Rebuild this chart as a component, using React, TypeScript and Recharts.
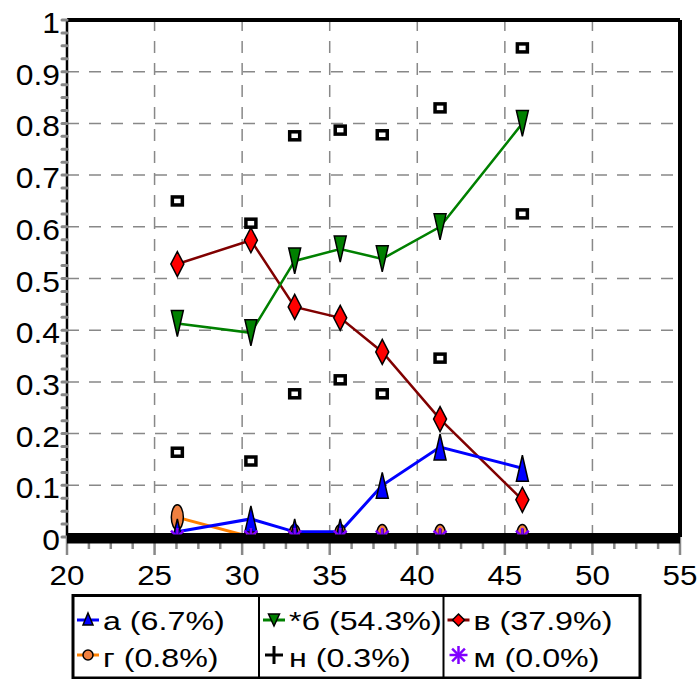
import React from 'react';
import { ComposedChart, Line, XAxis, YAxis, ReferenceLine } from 'recharts';

// sample positions and shares per series
const xValues = [26.3, 30.5, 33.0, 35.6, 38.0, 41.3, 46.0];
const seriesA = [0.01, 0.035, 0.01, 0.01, 0.1, 0.174, 0.133];
const seriesB = [0.413, 0.395, 0.534, 0.557, 0.538, 0.6, 0.8];
const seriesV = [0.528, 0.574, 0.445, 0.424, 0.358, 0.228, 0.072];
const seriesG = [0.038, 0, 0, 0, 0, 0, 0];
const seriesN = [0, 0, 0, 0, 0, 0, 0];
const seriesM = [0, 0, 0, 0, 0, 0, 0];
const upperBound = [0.65, 0.607, 0.776, 0.787, 0.778, 0.83, 0.946];
const lowerBound = [0.164, 0.147, 0.277, 0.304, 0.277, 0.346, 0.625];

const xMajor = [20, 25, 30, 35, 40, 45, 50, 55];
const xMinor = Array.from({ length: 29 }, (_, i) => 20 + i * 1.25);
const yMajor = [0, 0.1, 0.2, 0.3, 0.4, 0.5, 0.6, 0.7, 0.8, 0.9, 1];
const yMinor = Array.from({ length: 41 }, (_, i) => Math.round(i * 25) / 1000);
const yLabels = ['0', '0.1', '0.2', '0.3', '0.4', '0.5', '0.6', '0.7', '0.8', '0.9', '1'];

const legendLabels = ['а (6.7%)', '*б (54.3%)', 'в (37.9%)', 'г (0.8%)', 'н (0.3%)', 'м (0.0%)'];

const data = xValues.map((x, i) => ({
  x,
  a: seriesA[i],
  b: seriesB[i],
  v: seriesV[i],
  g: seriesG[i],
  n: seriesN[i],
  m: seriesM[i],
  hi: upperBound[i],
  lo: lowerBound[i],
}));

const FONT = '"Liberation Sans", Arial, sans-serif';
const GRID = '#888';

const triUp = (cx: number, cy: number, w: number, h: number) =>
  `M${cx},${cy - h / 2} L${cx + w / 2},${cy + h / 2} L${cx - w / 2},${cy + h / 2} Z`;
const triDown = (cx: number, cy: number, w: number, h: number) =>
  `M${cx - w / 2},${cy - h / 2} L${cx + w / 2},${cy - h / 2} L${cx},${cy + h / 2} Z`;
const diamond = (cx: number, cy: number, w: number, h: number) =>
  `M${cx},${cy - h / 2} L${cx + w / 2},${cy} L${cx},${cy + h / 2} L${cx - w / 2},${cy} Z`;

const Star = ({ cx, cy, r }: { cx: number; cy: number; r: number }) => {
  const d = r * 0.707;
  return (
    <g stroke="#8000ff" strokeWidth={2.5}>
      <line x1={cx - r} x2={cx + r} y1={cy} y2={cy} />
      <line x1={cx} x2={cx} y1={cy - r} y2={cy + r} />
      <line x1={cx - d} x2={cx + d} y1={cy - d} y2={cy + d} />
      <line x1={cx - d} x2={cx + d} y1={cy + d} y2={cy - d} />
    </g>
  );
};

const Plus = ({ cx, cy, r }: { cx: number; cy: number; r: number }) => (
  <g stroke="#000" strokeWidth={3}>
    <line x1={cx - r} x2={cx + r} y1={cy} y2={cy} />
    <line x1={cx} x2={cx} y1={cy - r} y2={cy + r} />
  </g>
);

const dotA = (p: any) => (
  <path key={`a${p.index}`} d={triUp(p.cx, p.cy, 12, 26)} fill="#0000ff" stroke="#000" strokeWidth={1.5} />
);
const dotB = (p: any) => (
  <path key={`b${p.index}`} d={triDown(p.cx, p.cy, 12, 26)} fill="#008000" stroke="#000" strokeWidth={1.5} />
);
const dotV = (p: any) => (
  <path key={`v${p.index}`} d={diamond(p.cx, p.cy, 13, 25)} fill="#ff0000" stroke="#000" strokeWidth={1.5} />
);
const dotG = (p: any) => (
  <ellipse key={`g${p.index}`} cx={p.cx} cy={p.cy} rx={6} ry={12.5} fill="#f08040" stroke="#000" strokeWidth={1.5} />
);
const dotN = (p: any) => (
  <g key={`n${p.index}`}><Plus cx={p.cx} cy={p.cy} r={8} /></g>
);
const dotM = (p: any) => (
  <g key={`m${p.index}`}><Star cx={p.cx} cy={p.cy} r={9} /></g>
);
const dotBox = (p: any) => (
  <rect key={`${p.dataKey}${p.index}`} x={p.cx - 5} y={p.cy - 4} width={10} height={8}
    fill="#fff" stroke="#000" strokeWidth={3.5} />
);

const XTick = (props: any) => {
  const { x, y, payload } = props;
  const v = payload.value;
  const major = xMajor.some((m) => Math.abs(m - v) < 1e-6);
  return (
    <g>
      <line x1={x} x2={x} y1={y} y2={y + (major ? 18 : 12)} stroke={GRID} strokeWidth={2.5} />
      {major && (
        <text transform={`translate(${x},${y + 48}) scale(1.12,1)`} textAnchor="middle" fontSize={28} fontFamily={FONT} fill="#000">
          {String(v)}
        </text>
      )}
    </g>
  );
};

const YTick = (props: any) => {
  const { x, y, payload } = props;
  const v = payload.value;
  const idx = yMajor.findIndex((m) => Math.abs(m - v) < 1e-6);
  return (
    <g>
      <line x1={x - 5} x2={x} y1={y} y2={y} stroke={GRID} strokeWidth={3} strokeLinecap="round" />
      {idx >= 0 && (
        <text transform={`translate(${x - 7},${y + 13}) scale(1.06,1)`} textAnchor="end" fontSize={30} fontFamily={FONT} fill="#000">
          {yLabels[idx]}
        </text>
      )}
    </g>
  );
};

const legendCols = [73, 259, 443.5];
const legendRows = [620, 655];
const textRows = [630, 667];

const LegendMark = ({ i, cx, cy }: { i: number; cx: number; cy: number }) => {
  const line = (color: string) => (
    <line x1={cx - 11} x2={cx + 11} y1={cy} y2={cy} stroke={color} strokeWidth={3} />
  );
  switch (i) {
    case 0:
      return <g>{line('#0000ff')}<path d={triUp(cx, cy - 1, 10, 12)} fill="#0000ff" stroke="#000" strokeWidth={1.5} /></g>;
    case 1:
      return <g>{line('#008000')}<path d={triDown(cx, cy, 11, 12)} fill="#008000" stroke="#000" strokeWidth={1.5} /></g>;
    case 2:
      return <g>{line('#800000')}<path d={diamond(cx, cy, 12, 12)} fill="#ff0000" stroke="#000" strokeWidth={1.5} /></g>;
    case 3:
      return <g>{line('#ff8000')}<circle cx={cx} cy={cy} r={5} fill="#f08040" stroke="#000" strokeWidth={1.5} /></g>;
    case 4:
      return <Plus cx={cx} cy={cy} r={9} />;
    default:
      return <Star cx={cx} cy={cy} r={9} />;
  }
};

const ChartLegend = () => (
  <svg width={699} height={679} style={{ position: 'absolute', left: 0, top: 0, pointerEvents: 'none' }}>
    <rect x={73} y={595.5} width={567} height={82.5} fill="none" stroke="#000" strokeWidth={3} />
    <line x1={259} x2={259} y1={595} y2={678} stroke="#000" strokeWidth={2} />
    <line x1={443.5} x2={443.5} y1={595} y2={678} stroke="#000" strokeWidth={2} />
    {legendLabels.map((label, i) => {
      const col = i % 3;
      const row = Math.floor(i / 3);
      const left = legendCols[col];
      return (
        <g key={label}>
          <LegendMark i={i} cx={left + 15} cy={legendRows[row]} />
          <text
            transform={`translate(${left + 30},${textRows[row]}) scale(1.24,1)`}
            fontSize={26}
            fontFamily={FONT}
            fill="#000"
          >
            {label}
          </text>
        </g>
      );
    })}
  </svg>
);

export default function App() {
  return (
    <div style={{ position: 'absolute', left: 0, top: 0, width: 699, height: 679, background: '#fff' }}>
      <ComposedChart width={699} height={595} data={data} margin={{ top: 20, right: 19, left: 0, bottom: 0 }}>
        <XAxis
          dataKey="x"
          type="number"
          domain={[20, 55]}
          ticks={xMinor}
          interval={0}
          height={58}
          tickSize={0}
          tickMargin={0}
          tickLine={false}
          tick={<XTick />}
          axisLine={{ stroke: '#000', strokeWidth: 8 }}
        />
        <YAxis
          type="number"
          domain={[0, 1]}
          allowDataOverflow
          ticks={yMinor}
          interval={0}
          width={67}
          tickSize={0}
          tickMargin={0}
          tickLine={false}
          tick={<YTick />}
          axisLine={{ stroke: '#000', strokeWidth: 2.5 }}
        />
        {xMajor.slice(1).map((v) => (
          <ReferenceLine key={`gx${v}`} x={v} stroke={GRID} strokeWidth={1.5} strokeDasharray="12 10" />
        ))}
        {yMajor.slice(1, 10).map((v) => (
          <ReferenceLine key={`gy${v}`} y={v} stroke={GRID} strokeWidth={1.5} strokeDasharray="12 10" />
        ))}
        <ReferenceLine y={1} stroke="#000" strokeWidth={4} />
        <ReferenceLine x={55} stroke="#000" strokeWidth={4} />
        <Line dataKey="g" stroke="#ff8000" strokeWidth={3} dot={dotG} activeDot={false} isAnimationActive={false} />
        <Line dataKey="v" stroke="#800000" strokeWidth={2.5} dot={dotV} activeDot={false} isAnimationActive={false} />
        <Line dataKey="b" stroke="#008000" strokeWidth={2.5} dot={dotB} activeDot={false} isAnimationActive={false} />
        <Line dataKey="a" stroke="#0000ff" strokeWidth={3} dot={dotA} activeDot={false} isAnimationActive={false} />
        <Line dataKey="n" stroke="#000" strokeWidth={3} dot={dotN} activeDot={false} isAnimationActive={false} />
        <Line dataKey="m" stroke="#8000ff" strokeWidth={2} dot={dotM} activeDot={false} isAnimationActive={false} />
        <Line dataKey="hi" stroke="none" dot={dotBox} activeDot={false} legendType="none" isAnimationActive={false} />
        <Line dataKey="lo" stroke="none" dot={dotBox} activeDot={false} legendType="none" isAnimationActive={false} />
        <ReferenceLine y={0} stroke="#000" strokeWidth={9} transform="translate(0,2)" zIndex={2000} />
      </ComposedChart>
      <ChartLegend />
    </div>
  );
}
